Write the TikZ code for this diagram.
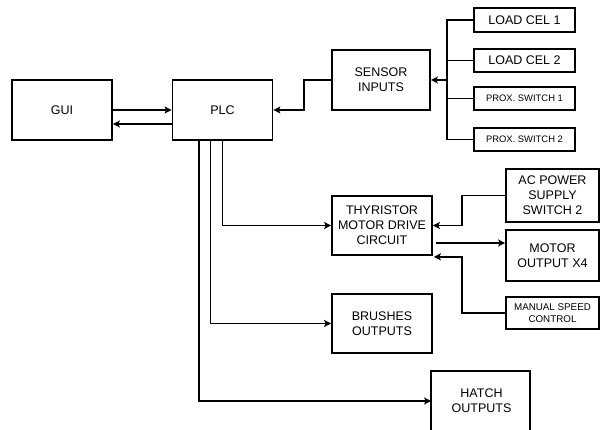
\documentclass[tikz,border=0pt]{standalone}
\usepackage{fontspec}
\setmainfont{Liberation Sans}
\usetikzlibrary{arrows.meta}
\begin{document}
\begin{tikzpicture}[x=1pt,y=-1pt,
  blk/.style={draw,line width=1.7pt,fill=white,inner sep=1pt,align=center,
    font=\fontsize{12.5}{15}\selectfont},
  small/.style={font=\fontsize{9.4}{12}\selectfont},
  tiny/.style={font=\fontsize{9.8}{12}\selectfont},
  conn/.style={line width=1.8pt},
  arr/.style={conn,-{Stealth[length=7pt,width=7pt,inset=1.5pt]}}]
\useasboundingbox (0,0) rectangle (600,430);
\fill[white] (0,0) rectangle (600,430);
% nodes
\node[blk,minimum width=100pt,minimum height=60pt] (gui) at (62,110) {GUI};
\node[blk,minimum width=100pt,minimum height=60pt] (plc) at (222.5,110) {PLC};
\node[blk,minimum width=98pt,minimum height=60pt] (sensor) at (381,80) {SENSOR\\INPUTS};
\node[blk,minimum width=101pt,minimum height=24pt] (lc1) at (524.5,20) {LOAD CEL 1};
\node[blk,minimum width=101pt,minimum height=23pt] (lc2) at (524.5,60.5) {LOAD CEL 2};
\node[blk,small,minimum width=101pt,minimum height=23pt] (px1) at (524.5,98.5) {PROX. SWITCH 1};
\node[blk,small,minimum width=101pt,minimum height=23pt] (px2) at (524.5,139.5) {PROX. SWITCH 2};
\node[blk,minimum width=100pt,minimum height=59pt] (thy) at (382,225.5) {THYRISTOR\\MOTOR DRIVE\\CIRCUIT};
\node[blk,minimum width=93pt,minimum height=53pt] (ac) at (552.5,195.5) {AC POWER\\SUPPLY\\SWITCH 2};
\node[blk,minimum width=93pt,minimum height=51pt] (motor) at (552.5,255.5) {MOTOR\\OUTPUT X4};
\node[blk,tiny,minimum width=93pt,minimum height=32pt] (manual) at (552.5,313) {MANUAL SPEED\\CONTROL};
\node[blk,minimum width=100pt,minimum height=59pt] (brushes) at (382,323.5) {BRUSHES\\OUTPUTS};
\node[blk,draw=none,fill=none,minimum width=99pt,minimum height=58pt] (hatch) at (481.5,401) {HATCH\\OUTPUTS};
\draw[line width=1.7pt] (hatch.north west) rectangle ++(99,70);
% GUI <-> PLC
\draw[arr] (gui.east) -- (plc.west);
\draw[arr] ([yshift=-14pt]plc.west) -- ([yshift=-14pt]gui.east);
% sensor -> PLC
\draw[arr] (sensor.west) -- ++(-27,0) |- (plc.east);
% sensor bus
\coordinate (bus) at (447,80);
\draw[conn] (lc1.west) -| (bus);
\draw[conn] (px2.west) -| (bus);
\draw[conn] (lc2.west) -- (lc2.west -| bus);
\draw[conn] (px1.west) -- (px1.west -| bus);
\draw[arr] (bus) -- (sensor.east);
% PLC outputs
\draw[arr] (plc.south) |- (thy.west);
\draw[arr] ([xshift=-12pt]plc.south) |- (brushes.west);
\draw[arr] ([xshift=-23.5pt]plc.south) |- (hatch.west);
% thyristor connections
\draw[arr] (ac.west) -- ++(-43,0) |- (thy.east);
\coordinate (tm) at ([xshift=3pt,yshift=-17.5pt]thy.east);
\draw[arr] (tm) -- (tm -| motor.west);
\coordinate (ms) at ([xshift=1pt,yshift=-1pt]thy.south east);
\draw[arr] (manual.west) -- ++(-43,0) |- (ms);
\end{tikzpicture}
\end{document}
